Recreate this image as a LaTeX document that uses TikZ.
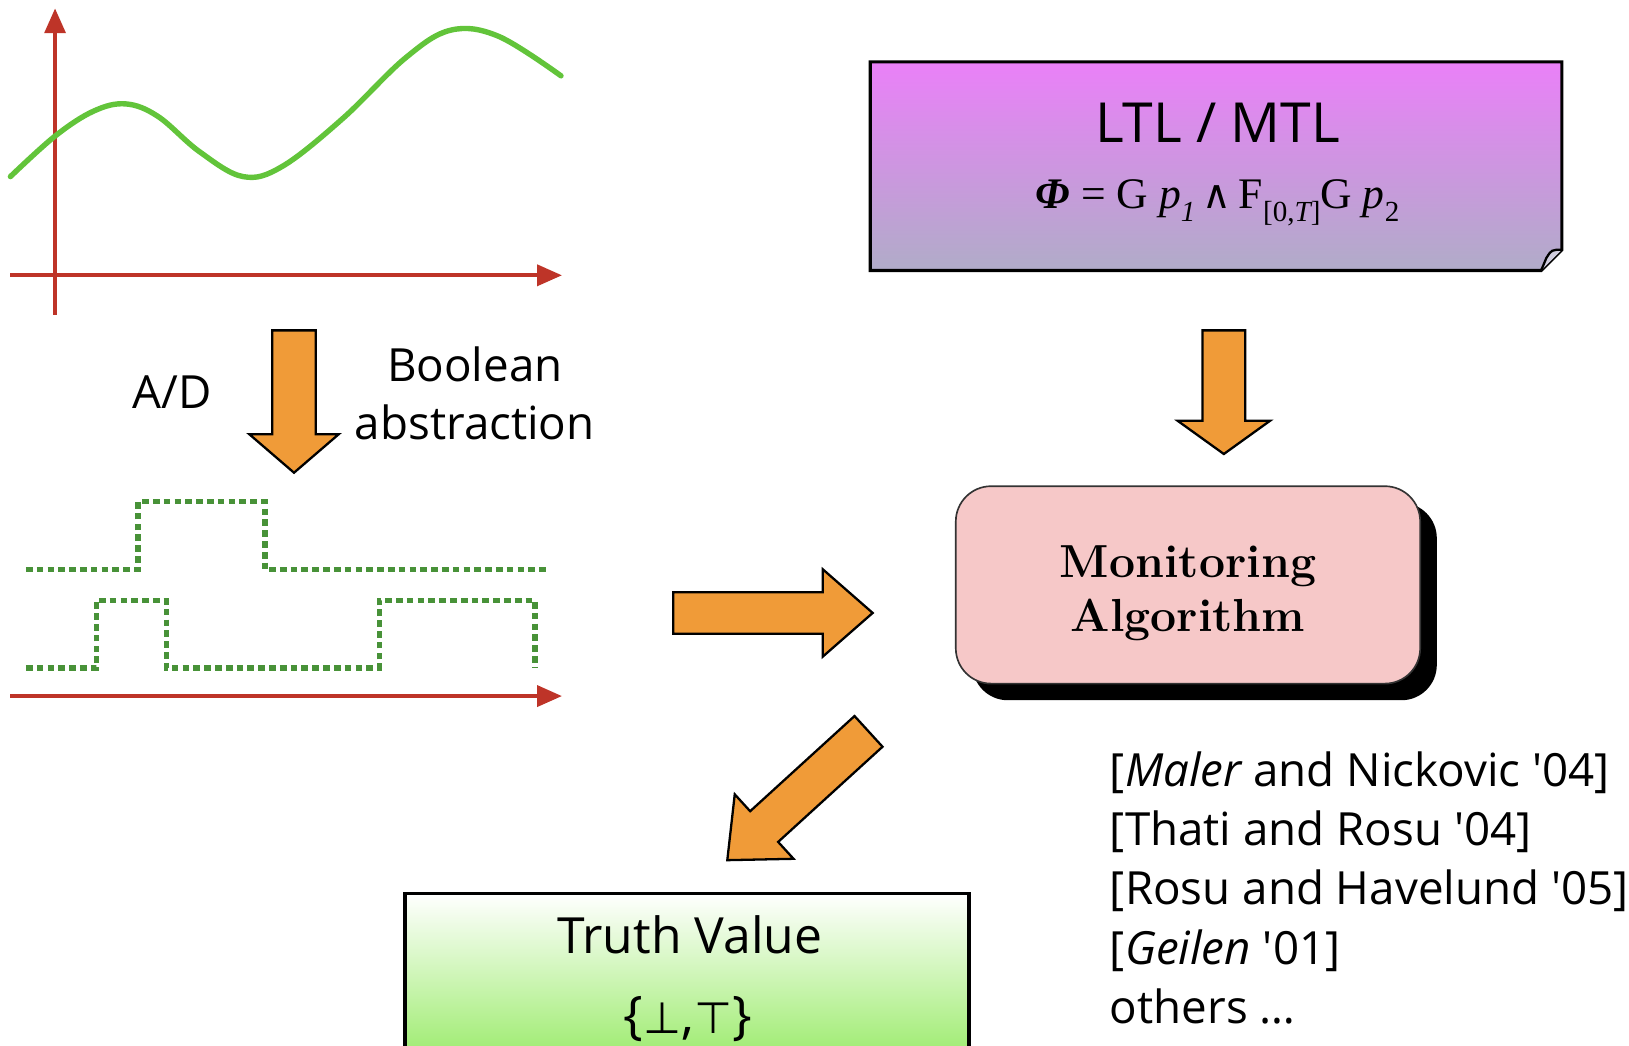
\documentclass[tikz,border=0pt]{standalone}
\usepackage{fontspec}
\newfontfamily\comic{Open Sans}
\newfontfamily\serifT{Liberation Serif}
\newfontfamily\djv{DejaVu Sans}
\usetikzlibrary{arrows.meta,calc,shadows}

\definecolor{axisred}{RGB}{190,52,40}
\definecolor{curvegreen}{RGB}{98,196,58}
\definecolor{dotgreen}{RGB}{72,146,56}
\definecolor{arrorange}{RGB}{240,155,56}
\definecolor{ltltop}{RGB}{234,128,248}
\definecolor{ltlbot}{RGB}{176,172,200}
\definecolor{monpink}{RGB}{246,200,200}
\definecolor{truthbot}{RGB}{150,234,100}

\tikzset{
  axisline/.style={draw=axisred, line width=2pt, -{Triangle[length=12pt,width=10pt]}},
  signalcurve/.style={draw=curvegreen, line width=2.6pt, line cap=round},
  boolsig/.style={draw=dotgreen, line width=2.6pt, dash pattern=on 3.2pt off 2pt},
  blockarrow/.style={fill=arrorange, draw=black, line width=1.1pt, line join=miter},
  lbl/.style={font=\comic\fontsize{22}{28}\selectfont, inner sep=0pt},
  refline/.style={font=\comic\fontsize{22}{28}\selectfont, inner sep=0pt, anchor=base west},
  monbox/.style={draw=black!80, line width=0.8pt, fill=monpink, rounded corners=17pt,
    minimum width=223.5pt, minimum height=95pt, inner sep=0pt,
    general shadow={fill=black, shadow xshift=8pt, shadow yshift=-8pt}},
  montext/.style={align=center, inner sep=0pt,
    font=\bfseries\fontsize{22.3}{26}\selectfont},
  truthbox/.style={draw=black, line width=1.75pt, top color=white, bottom color=truthbot,
    minimum width=271.5pt, minimum height=85pt, inner sep=0pt},
}

\newcommand\blockarrow[5]{%
  \path let \p1=(#1), \p2=(#2) in \pgfextra{%
    \pgfmathsetmacro\baangle{atan2(\y2-\y1,\x2-\x1)}%
    \pgfmathsetmacro\balen{veclen(\x2-\x1,\y2-\y1)}%
    \xdef\baangle{\baangle}\xdef\balen{\balen}};
  \filldraw[blockarrow, shift={(#1)}, rotate=\baangle]
    (0pt,#3) -- ({\balen pt-#5},#3) -- ({\balen pt-#5},#4) -- (\balen pt,0pt)
    -- ({\balen pt-#5},-#4) -- ({\balen pt-#5},-#3) -- (0pt,-#3) -- cycle;
}

\begin{document}
\begin{tikzpicture}[x=0.5pt, y=-0.5pt]
\useasboundingbox (0,0) rectangle (1568,1006);
\clip (0,0) rectangle (1568,1006);

% ---- analog signal plot
\coordinate (ybot) at (53,303);
\coordinate (ytop) at (53,8);
\coordinate (xl) at (10,265);
\coordinate (xr) at (541,265);
\draw[axisline] (ybot) -- (ytop);
\draw[axisline] (xl) -- (xr);
\draw[signalcurve] plot[smooth, tension=0.6] coordinates {
  (10,170) (53,131) (90,107) (121,100) (152,112) (192,146) (234,170) (272,160)
  (330,114) (390,56) (434,29) (480,35) (540,73)};

% ---- boolean signals
\draw[boolsig] (25,548) -- (133,548) -- (133,483) -- (255,483) -- (255,548) -- (528,548);
\draw[boolsig] (25,643) -- (93,643) -- (93,578) -- (160,578) -- (160,643) -- (365,643)
  -- (365,578) -- (515,578) -- (515,643);
\coordinate (bl) at (10,670);
\coordinate (br) at (541,670);
\draw[axisline] (bl) -- (br);

% ---- labels of abstraction
\node[lbl, anchor=base] (ad) at (166,393) {A/D};
\node[lbl, anchor=base] (bool) at (457,367) {Boolean};
\node[lbl, anchor=base] (abst) at (457,423) {abstraction};

% ---- LTL/MTL box
\node[minimum width=332.5pt, minimum height=100pt, inner sep=0pt] (ltl) at (1170.5,160) {};
\shade[top color=ltltop, bottom color=ltlbot]
  (ltl.north west) -- (ltl.north east) -- ([yshift=10pt]ltl.south east)
  -- ([xshift=-10pt]ltl.south east) -- (ltl.south west) -- cycle;
\draw[line width=1.5pt, line join=miter]
  (ltl.north west) -- (ltl.north east) -- ([yshift=10pt]ltl.south east)
  -- ([xshift=-10pt]ltl.south east) -- (ltl.south west) -- cycle;
\draw[line width=1.1pt, fill=ltlbot!60!white]
  ([yshift=10pt]ltl.south east) .. controls ([xshift=-5pt,yshift=10pt]ltl.south east)
  .. ([xshift=-7.5pt,yshift=6pt]ltl.south east)
  .. controls ([xshift=-9pt,yshift=3pt]ltl.south east) .. ([xshift=-10pt]ltl.south east);
\node[anchor=base, inner sep=0pt] (ltltitle) at (1172,137)
  {\comic\fontsize{26.6}{32}\selectfont LTL / MTL};
\node[anchor=base, inner sep=0pt] (formula) at (1172,201)
  {\serifT\fontsize{21}{26}\selectfont {\bfseries\itshape Φ} = G {\itshape p}\raisebox{-0.28em}{\fontsize{14}{14}\selectfont\itshape 1}\,{\djv\fontsize{19}{26}\selectfont ∧}\,F\raisebox{-0.3em}{\fontsize{14}{14}\selectfont[0,{\itshape T}]}G {\itshape p}\raisebox{-0.28em}{\fontsize{14}{14}\selectfont 2}};

% ---- Monitoring box
\node[monbox] (mon) at (1143.5,563) {};
\node[montext] (montxt) at ([yshift=-4pt]mon.center) {Monitoring\\Algorithm};

% ---- Truth box
\node[truthbox] (truth) at (661.5,945) {};
\node[lbl, anchor=base] (truthtxt) at (664,918) {\fontsize{24}{28}\selectfont Truth Value};
\node[lbl, anchor=base] (truthset) at (662,995)
  {\fontsize{25}{28}\selectfont\{{\djv\fontsize{21}{28}\selectfont⊥},{\djv\fontsize{21}{28}\selectfont⊤}\}};

% ---- references
\node[refline] (r1) at (1068,757) {[{\itshape Maler} and Nickovic '04]};
\node[refline] (r2) at (1068,814) {[Thati and Rosu '04]};
\node[refline] (r3) at (1068,871) {[Rosu and Havelund '05]};
\node[refline] (r4) at (1068,928) {[{\itshape Geilen} '01]};
\node[refline] (r5) at (1068,985) {others …};

% ---- block arrows
\coordinate (adS) at (283,318);
\coordinate (adT) at (283,455);
\blockarrow{adS}{adT}{10.5pt}{21.5pt}{18.5pt}
\coordinate (lmS) at (1178,318);
\coordinate (lmT) at (1178,437);
\blockarrow{lmS}{lmT}{10.25pt}{22.25pt}{16pt}
\coordinate (smS) at (648,590);
\coordinate (smT) at (840,590);
\blockarrow{smS}{smT}{10pt}{21pt}{24pt}
\coordinate (mtS) at (836,704);
\coordinate (mtT) at (700,828);
\blockarrow{mtS}{mtT}{10pt}{21pt}{24pt}
\end{tikzpicture}
\end{document}
